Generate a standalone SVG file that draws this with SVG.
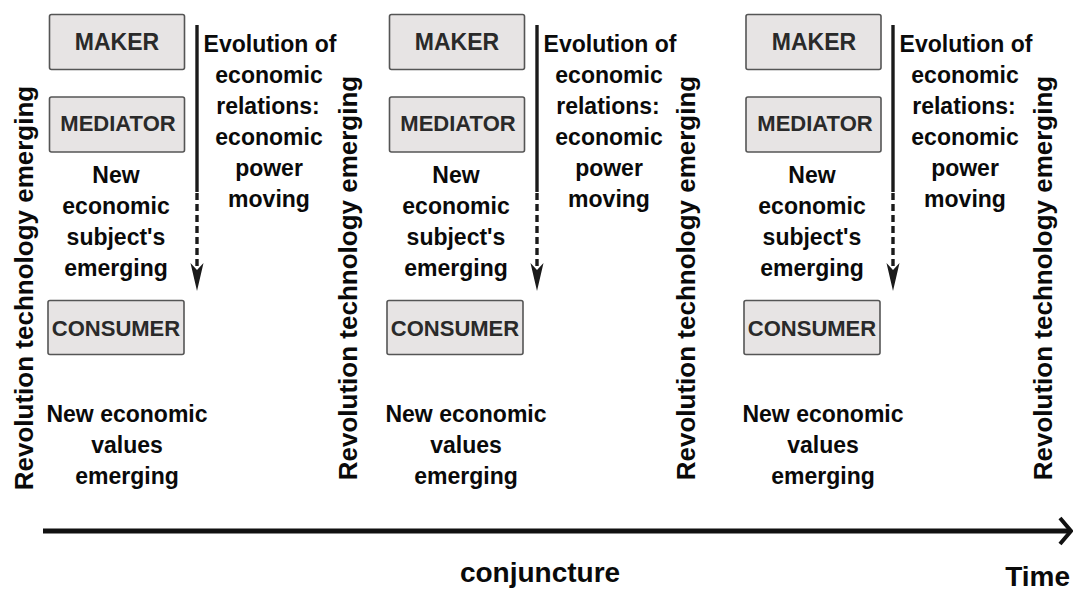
<svg xmlns="http://www.w3.org/2000/svg" width="1073" height="590" viewBox="0 0 1073 590">
<defs>
<style>
text{font-family:"Liberation Sans",Arial,sans-serif;font-weight:bold;fill:#0a0a0a;text-anchor:middle}
.box{fill:#e7e4e4;stroke:#555;stroke-width:1.6}
.bl{fill:#2a2a2a;font-size:22px}
.t{font-size:23px}
.v{font-size:26px}
.ax{font-size:28px}
.solid{stroke:#1a1a1a;stroke-width:3.4;fill:none}
.dash{stroke:#1a1a1a;stroke-width:3.4;fill:none;stroke-dasharray:7 4}
.head{fill:#1a1a1a}
</style>
</defs>
<rect width="1073" height="590" fill="#fff"/>

<!-- vertical labels -->
<g id="rev1"><text class="v" transform="translate(33,288) rotate(-90)">Revolution technology emerging</text></g>
<g id="rev2"><text class="v" transform="translate(357,278) rotate(-90)">Revolution technology emerging</text></g>
<g id="rev3"><text class="v" transform="translate(695,278) rotate(-90)">Revolution technology emerging</text></g>
<g id="rev4"><text class="v" transform="translate(1052,278) rotate(-90)">Revolution technology emerging</text></g>

<!-- panel 1 -->
<g id="maker1"><rect class="box" x="49.5" y="14.5" width="135" height="55" rx="2"/><text class="bl" x="117" y="50" style="font-size:23px">MAKER</text></g>
<g id="mediator1"><rect class="box" x="49.5" y="97" width="135" height="55" rx="2"/><text class="bl" x="118" y="131">MEDIATOR</text></g>
<g id="consumer1"><rect class="box" x="48" y="300.5" width="136" height="54" rx="2"/><text class="bl" x="116" y="336">CONSUMER</text></g>
<g id="subject1"><text class="t" x="116" y="183">New</text><text class="t" x="116" y="214">economic</text><text class="t" x="116" y="245">subject's</text><text class="t" x="116" y="276">emerging</text></g>
<g id="values1"><text class="t" x="127" y="422">New economic</text><text class="t" x="127" y="453">values</text><text class="t" x="127" y="484">emerging</text></g>
<g id="evol1"><text class="t" x="270" y="52">Evolution of</text><text class="t" x="269" y="83">economic</text><text class="t" x="268" y="114">relations:</text><text class="t" x="269" y="145">economic</text><text class="t" x="269" y="176">power</text><text class="t" x="269" y="207">moving</text></g>

<!-- panel 2 -->
<g id="maker2"><rect class="box" x="389.5" y="14.5" width="135" height="55" rx="2"/><text class="bl" x="457" y="50" style="font-size:23px">MAKER</text></g>
<g id="mediator2"><rect class="box" x="389.5" y="97" width="135" height="55" rx="2"/><text class="bl" x="458" y="131">MEDIATOR</text></g>
<g id="consumer2"><rect class="box" x="387" y="300.5" width="136" height="54" rx="2"/><text class="bl" x="455" y="336">CONSUMER</text></g>
<g id="subject2"><text class="t" x="456" y="183">New</text><text class="t" x="456" y="214">economic</text><text class="t" x="456" y="245">subject's</text><text class="t" x="456" y="276">emerging</text></g>
<g id="values2"><text class="t" x="466" y="422">New economic</text><text class="t" x="466" y="453">values</text><text class="t" x="466" y="484">emerging</text></g>
<g id="evol2"><text class="t" x="610" y="52">Evolution of</text><text class="t" x="609" y="83">economic</text><text class="t" x="608" y="114">relations:</text><text class="t" x="609" y="145">economic</text><text class="t" x="609" y="176">power</text><text class="t" x="609" y="207">moving</text></g>

<!-- panel 3 -->
<g id="maker3"><rect class="box" x="746" y="14.5" width="135" height="55" rx="2"/><text class="bl" x="814" y="50" style="font-size:23px">MAKER</text></g>
<g id="mediator3"><rect class="box" x="746" y="97" width="135" height="55" rx="2"/><text class="bl" x="815" y="131">MEDIATOR</text></g>
<g id="consumer3"><rect class="box" x="744" y="300.5" width="136" height="54" rx="2"/><text class="bl" x="812" y="336">CONSUMER</text></g>
<g id="subject3"><text class="t" x="812" y="183">New</text><text class="t" x="812" y="214">economic</text><text class="t" x="812" y="245">subject's</text><text class="t" x="812" y="276">emerging</text></g>
<g id="values3"><text class="t" x="823" y="422">New economic</text><text class="t" x="823" y="453">values</text><text class="t" x="823" y="484">emerging</text></g>
<g id="evol3"><text class="t" x="966" y="52">Evolution of</text><text class="t" x="965" y="83">economic</text><text class="t" x="964" y="114">relations:</text><text class="t" x="965" y="145">economic</text><text class="t" x="965" y="176">power</text><text class="t" x="965" y="207">moving</text></g>

<!-- axis labels -->
<g id="conjuncture"><text class="ax" x="540" y="582">conjuncture</text></g>
<g id="time"><text class="ax" x="1070" y="586" style="text-anchor:end">Time</text></g>

<!-- connectors -->
<g id="connectors">
<path class="solid" d="M197,25 V192"/><path class="dash" d="M197,193 V266"/><path class="head" d="M190.5,263 L197,291 L203.5,263 L197,270 Z"/>
<path class="solid" d="M537,25 V192"/><path class="dash" d="M537,193 V266"/><path class="head" d="M530.5,263 L537,291 L543.5,263 L537,270 Z"/>
<path class="solid" d="M893,25 V192"/><path class="dash" d="M893,193 V266"/><path class="head" d="M886.5,263 L893,291 L899.5,263 L893,270 Z"/>
<path d="M43,531 H1070" stroke="#111" stroke-width="5" fill="none"/>
<path d="M1060,518 L1071,531 L1060,544" stroke="#111" stroke-width="4" fill="none" stroke-linejoin="miter"/>
</g>
</svg>
